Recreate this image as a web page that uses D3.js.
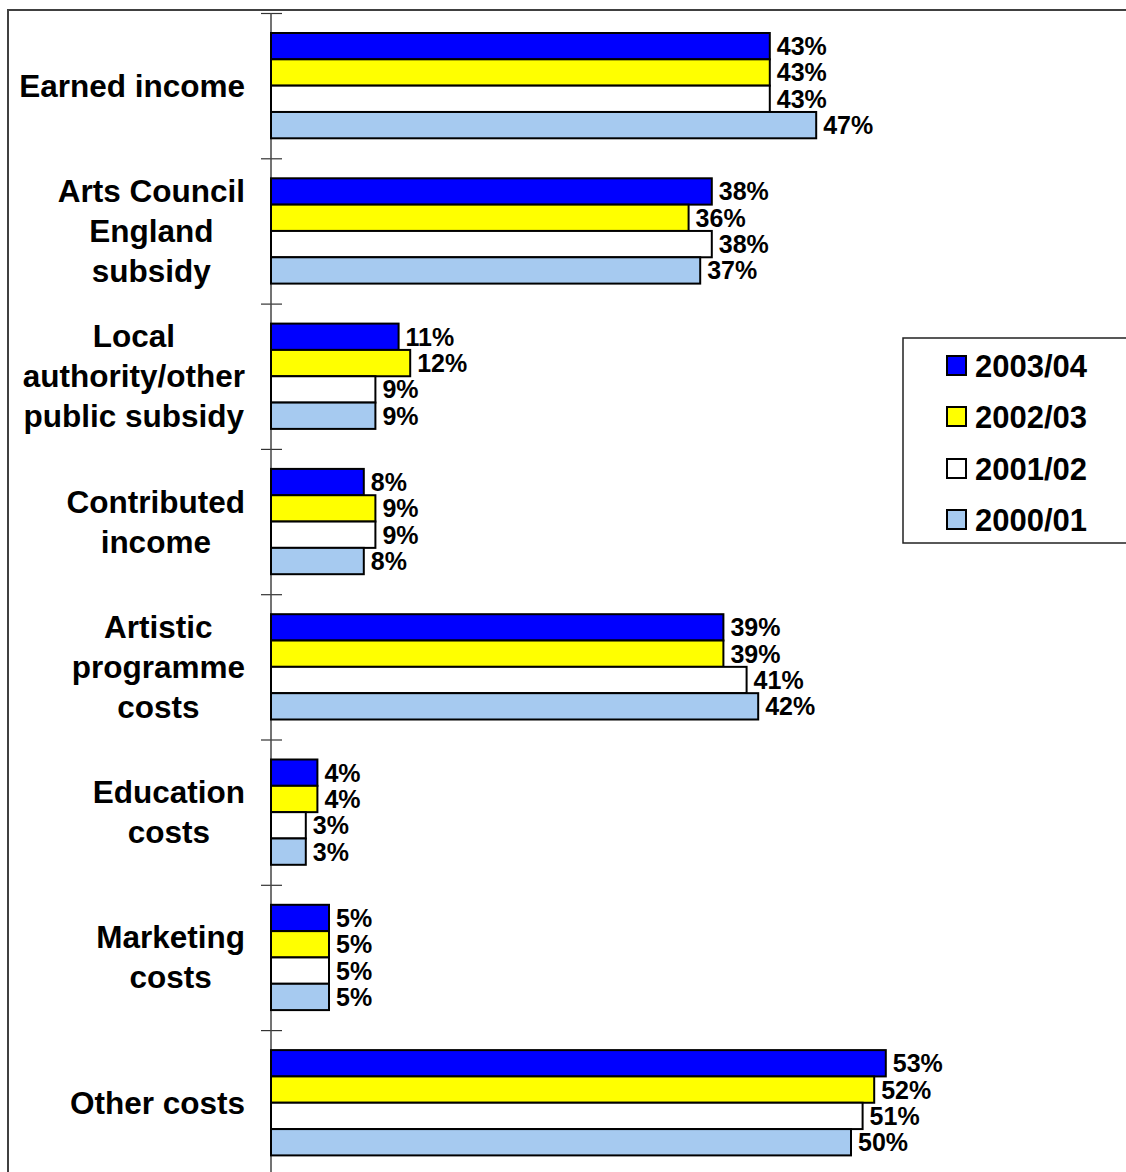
<!DOCTYPE html>
<html>
<head>
<meta charset="utf-8">
<script src="https://cdn.jsdelivr.net/npm/d3@7"></script>
<style>
  html, body { margin: 0; padding: 0; background: #fff; }
  svg { display: block; font-family: "Liberation Sans", Arial, Helvetica, sans-serif; font-weight: bold; }
</style>
</head>
<body>
<svg id="chart" width="1126" height="1172"></svg>
<script>
// Income and cost shares by category, four financial years
const categories = [
  "Earned income",
  "Arts Council England subsidy",
  "Local authority/other public subsidy",
  "Contributed income",
  "Artistic programme costs",
  "Education costs",
  "Marketing costs",
  "Other costs"
];
const categoryLines = [
  ["Earned income"],
  ["Arts Council", "England", "subsidy"],
  ["Local", "authority/other", "public subsidy"],
  ["Contributed", "income"],
  ["Artistic", "programme", "costs"],
  ["Education", "costs"],
  ["Marketing", "costs"],
  ["Other costs"]
];
const seriesNames = ["2003/04", "2002/03", "2001/02", "2000/01"];
const values2003 = [43, 38, 11, 8, 39, 4, 5, 53];
const values2002 = [43, 36, 12, 9, 39, 4, 5, 52];
const values2001 = [43, 38, 9, 9, 41, 3, 5, 51];
const values2000 = [47, 37, 9, 8, 42, 3, 5, 50];
const seriesColors = ["#0000FF", "#FFFF00", "#FFFFFF", "#A6CAF0"];

const seriesValues = [values2003, values2002, values2001, values2000];

const svg = d3.select("#chart");

// outer frame (runs past the right and bottom edges)
svg.append("rect")
  .attr("x", 8).attr("y", 10)
  .attr("width", 1200).attr("height", 1250)
  .attr("fill", "none")
  .attr("stroke", "#404040")
  .attr("stroke-width", 2);

const axisX = 271;
const bandTop = 13;
const bandStep = 145.3;

const x = d3.scaleLinear().domain([0, 60]).range([axisX, axisX + 696]);
const y = d3.scaleBand()
  .domain(categories)
  .range([bandTop, bandTop + bandStep * categories.length])
  .paddingInner(0).paddingOuter(0);
const ySub = d3.scaleBand()
  .domain(seriesNames)
  .range([20, y.bandwidth() - 20]);

// category boundary ticks
const boundary = d3.scaleLinear()
  .domain([0, categories.length])
  .range([bandTop, bandTop + bandStep * categories.length]);
const axisG = svg.append("g")
  .attr("transform", `translate(${axisX},0)`)
  .call(d3.axisLeft(boundary).tickValues(d3.range(categories.length + 1)).tickSize(10).tickFormat(""));
axisG.select(".domain").remove();
axisG.selectAll(".tick line")
  .attr("x1", -10).attr("x2", 11)
  .attr("stroke", "#333").attr("stroke-width", 1.2);
svg.append("line")
  .attr("x1", axisX).attr("x2", axisX)
  .attr("y1", bandTop).attr("y2", 1172)
  .attr("stroke", "#444").attr("stroke-width", 1.5);

// bars
const groups = svg.append("g").selectAll("g")
  .data(categories)
  .join("g")
  .attr("transform", d => `translate(0,${y(d)})`);

groups.each(function(cat, ci) {
  const g = d3.select(this);
  seriesNames.forEach((s, si) => {
    const v = seriesValues[si][ci];
    g.append("rect")
      .attr("x", x(0))
      .attr("y", ySub(s))
      .attr("width", x(v) - x(0))
      .attr("height", ySub.bandwidth())
      .attr("fill", seriesColors[si])
      .attr("stroke", "#000")
      .attr("stroke-width", 2);
    g.append("text")
      .attr("x", x(v) + 7)
      .attr("y", ySub(s) + ySub.bandwidth() / 2)
      .attr("dy", "0.36em")
      .attr("font-size", 25)
      .attr("fill", "#000")
      .text(v + "%");
  });
});

// category labels: lines centred in a block that is right-aligned
const labelRight = 245;
const lineGap = 40;
categories.forEach((cat, ci) => {
  const lines = categoryLines[ci];
  const t = svg.append("text")
    .attr("font-size", 31.5)
    .attr("text-anchor", "middle")
    .attr("fill", "#000");
  const cy = y(cat) + y.bandwidth() / 2;
  lines.forEach((ln, li) => {
    t.append("tspan")
      .attr("y", cy + (li - (lines.length - 1) / 2) * lineGap)
      .attr("dy", "0.35em")
      .text(ln);
  });
  let maxW = 0;
  t.selectAll("tspan").each(function() {
    maxW = Math.max(maxW, this.getComputedTextLength());
  });
  t.selectAll("tspan").attr("x", labelRight - maxW / 2);
});

// legend
const legend = svg.append("g");
legend.append("rect")
  .attr("x", 903).attr("y", 338)
  .attr("width", 260).attr("height", 205)
  .attr("fill", "#fff")
  .attr("stroke", "#222").attr("stroke-width", 1.5);
const legendRows = [366, 417, 469, 520];
seriesNames.forEach((s, i) => {
  legend.append("rect")
    .attr("x", 947).attr("y", legendRows[i] - 10)
    .attr("width", 19).attr("height", 19)
    .attr("fill", seriesColors[i])
    .attr("stroke", "#000").attr("stroke-width", 2);
  legend.append("text")
    .attr("x", 975).attr("y", legendRows[i])
    .attr("dy", "0.36em")
    .attr("font-size", 31)
    .attr("fill", "#000")
    .text(s);
});
</script>
</body>
</html>
